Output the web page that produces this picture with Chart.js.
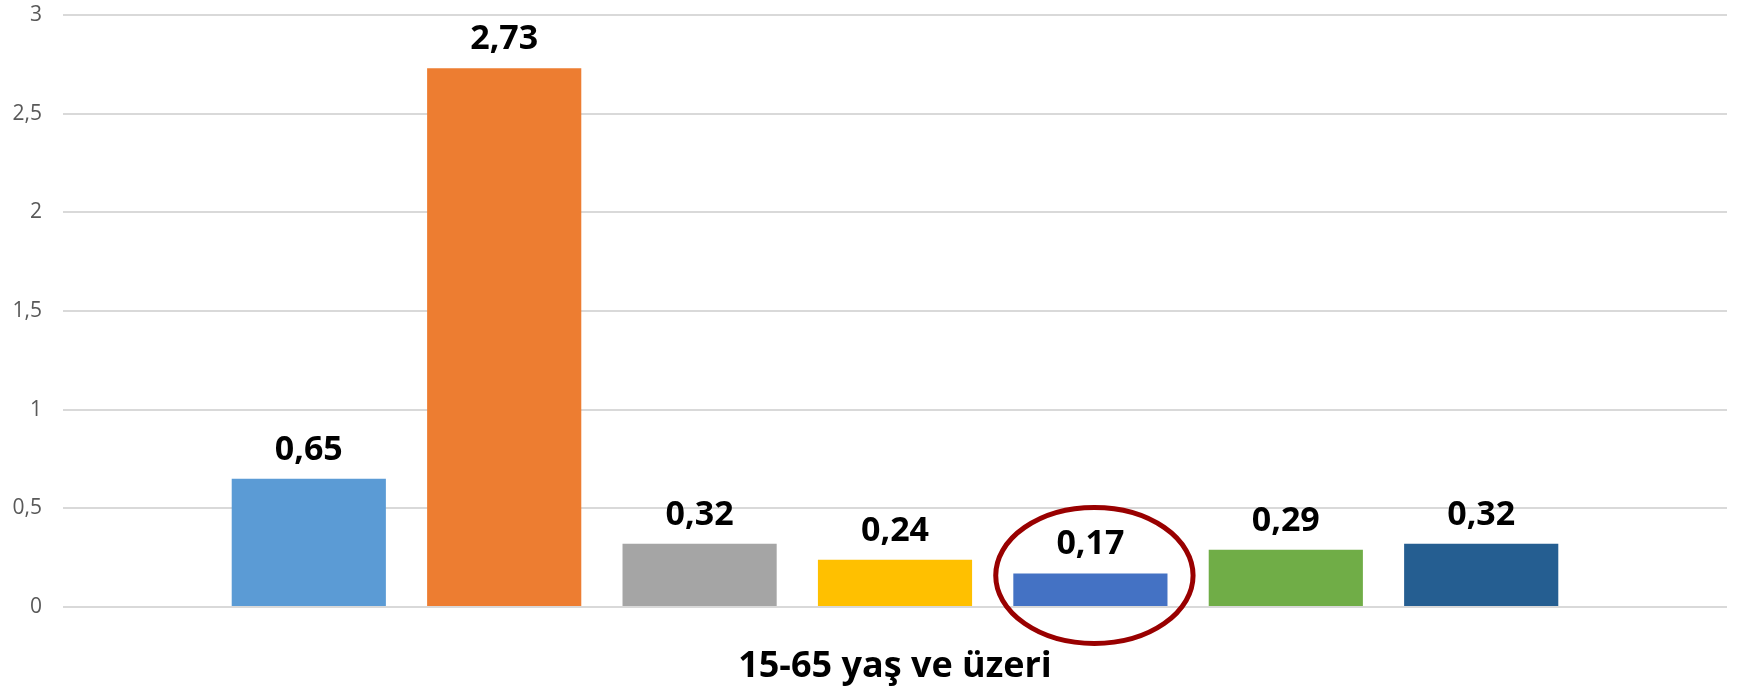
<!DOCTYPE html>
<html>
<head>
<meta charset="utf-8">
<script src="https://cdn.jsdelivr.net/npm/chart.js@4"></script>
<style>
    html, body { margin: 0; padding: 0; background: #ffffff; }
    #wrap { width: 1737px; height: 690px; }
</style>
</head>
<body>
<div id="wrap"><canvas id="ageChart"></canvas></div>
<script>
const categories = ['15-65 yaş ve üzeri'];
const seriesNames = ['Seri 1', 'Seri 2', 'Seri 3', 'Seri 4', 'Seri 5', 'Seri 6', 'Seri 7'];
const seriesValues = [0.65, 2.73, 0.32, 0.24, 0.17, 0.29, 0.32];
const seriesColors = ['#5B9BD5', '#ED7D31', '#A5A5A5', '#FFC000', '#4472C4', '#70AD47', '#255E91'];
const yTicks = [0, 0.5, 1, 1.5, 2, 2.5, 3];
const circledIndex = 4; // the 0,17 bar gets the red ring

const fmt = v => String(v).replace('.', ',');

// value labels above each bar
const barLabels = {
    id: 'barLabels',
    afterDatasetsDraw(chart) {
        const ctx = chart.ctx;
        ctx.save();
        ctx.font = 'bold 34px "Open Sans"';
        ctx.fillStyle = '#000000';
        ctx.textAlign = 'center';
        ctx.textBaseline = 'alphabetic';
        chart.data.datasets.forEach((ds, i) => {
            const bar = chart.getDatasetMeta(i).data[0];
            ctx.fillText(fmt(ds.data[0]), bar.x, bar.y - 19);
        });
        ctx.restore();
    }
};

// red ellipse around one bar
const ringMark = {
    id: 'ringMark',
    afterDraw(chart) {
        const bar = chart.getDatasetMeta(circledIndex).data[0];
        const ctx = chart.ctx;
        ctx.save();
        ctx.strokeStyle = '#990000';
        ctx.lineWidth = 5;
        ctx.beginPath();
        ctx.ellipse(bar.x + 4, bar.y + 2, bar.width * 0.64, 68, 0, 0, Math.PI * 2);
        ctx.stroke();
        ctx.restore();
    }
};

new Chart(document.getElementById('ageChart').getContext('2d'), {
    type: 'bar',
    data: {
        labels: categories,
        datasets: seriesValues.map((v, i) => ({
            label: seriesNames[i],
            data: [v],
            backgroundColor: seriesColors[i],
            borderWidth: 0,
            categoryPercentage: 0.822,
            barPercentage: 0.789
        }))
    },
    options: {
        responsive: true,
        maintainAspectRatio: false,
        animation: false,
        layout: { padding: { top: 15, right: 10, left: 0, bottom: 0 } },
        plugins: {
            legend: { display: false },
            tooltip: { enabled: false }
        },
        scales: {
            x: {
                grid: { display: false },
                border: { display: false },
                ticks: {
                    color: '#000000',
                    font: { family: '"Open Sans"', size: 36, weight: 'bold' },
                    padding: 30
                },
                afterFit(scale) { scale.height = 83; }
            },
            y: {
                min: 0,
                max: 3,
                afterBuildTicks(scale) { scale.ticks = yTicks.map(v => ({ value: v })); },
                // invisible tick marks keep the labels away from the grid
                grid: { color: '#D9D9D9', lineWidth: 2, drawTicks: true, tickLength: 21, tickColor: 'rgba(0,0,0,0)' },
                border: { display: false },
                ticks: {
                    color: '#595959',
                    font: { family: '"Open Sans"', size: 21 },
                    padding: 0,
                    callback: v => fmt(v)
                },
                afterFit(scale) { scale.width = 63; }
            }
        }
    },
    plugins: [barLabels, ringMark]
});
</script>
</body>
</html>
